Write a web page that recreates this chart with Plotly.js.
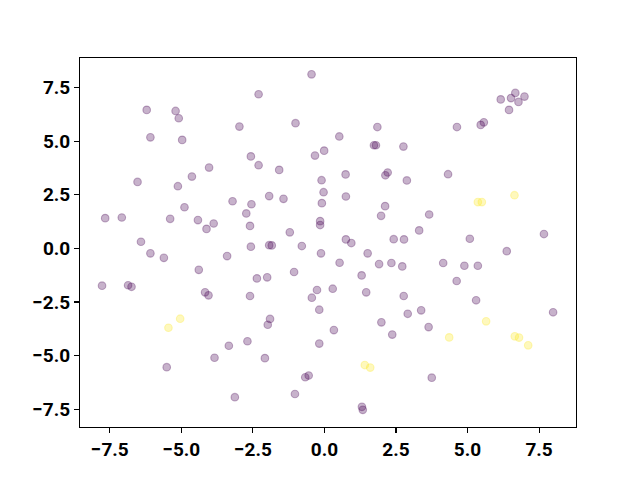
<!DOCTYPE html>
<html>
<head>
<meta charset="utf-8">
<script src="https://cdn.plot.ly/plotly-3.0.1.min.js"></script>
<style>html,body{margin:0;padding:0;background:#fff;}</style>
</head>
<body>
<div id="chart" style="width:640px;height:480px;"></div>
<script>
// Class 0 points (purple)
const x0 = [-6.21,-5.20,-5.09,-2.97,-6.08,-4.97,-2.57,-4.03,-4.63,-6.53,-5.12,-3.21,-2.55,-4.89,-2.73,-7.66,-7.08,-5.39,-4.42,-3.87,-4.12,-2.60,-6.41,-2.57,
  -0.45,-2.30,-1.01,1.85,0.52,1.73,1.80,2.76,-0.01,-0.33,-2.30,-1.58,0.74,2.21,2.13,-0.10,2.88,-0.03,-1.93,-1.43,0.75,-0.09,2.12,1.98,-0.15,-0.15,-1.21,0.75,0.94,2.42,2.78,-1.93,-1.84,-0.79,3.31,
  6.16,6.52,6.67,6.99,6.78,6.45,4.63,5.46,5.57,4.32,3.66,5.08,7.67,6.37,
  -6.08,-5.61,-3.40,-4.39,-7.77,-6.86,-6.74,-4.17,-4.05,-2.60,-3.34,-2.69,-3.84,-5.51,-3.13,
  -0.12,1.51,0.53,1.91,2.34,2.72,-2.36,-2.00,-1.06,1.30,-0.26,-0.44,0.29,1.46,2.77,-0.18,-1.90,-1.98,2.91,1.99,0.33,2.37,-0.18,-2.08,-0.67,-0.55,-1.03,1.31,1.34,
  4.15,4.89,5.36,4.62,5.30,3.38,7.99,3.64,3.75];
const y0 = [6.46,6.41,6.07,5.68,5.18,5.06,4.29,3.77,3.35,3.10,2.90,2.20,2.06,1.92,1.63,1.41,1.44,1.38,1.32,1.16,0.91,1.05,0.31,0.08,
  8.12,7.19,5.84,5.66,5.22,4.81,4.81,4.75,4.56,4.33,3.88,3.66,3.45,3.54,3.41,3.18,3.17,2.62,2.44,2.31,2.42,2.11,1.97,1.52,1.27,1.09,0.75,0.42,0.25,0.43,0.42,0.15,0.14,0.11,0.84,
  6.95,7.01,7.25,7.08,6.83,6.46,5.66,5.76,5.88,3.46,1.58,0.45,0.67,-0.13,
  -0.23,-0.44,-0.36,-1.00,-1.74,-1.72,-1.79,-2.05,-2.19,-2.22,-4.54,-4.33,-5.10,-5.54,-6.94,
  -0.23,-0.23,-0.67,-0.73,-0.68,-0.84,-1.40,-1.35,-1.10,-1.26,-1.94,-2.30,-1.88,-2.05,-2.22,-2.86,-3.29,-3.56,-3.05,-3.45,-3.81,-4.02,-4.44,-5.12,-6.01,-5.93,-6.79,-7.39,-7.53,
  -0.68,-0.81,-0.81,-1.52,-2.42,-2.89,-2.98,-3.67,-6.03];
// Class 1 points (yellow)
const x1 = [5.36,5.50,6.64,-5.04,-5.45,1.41,1.60,5.65,4.36,6.65,6.80,7.12];
const y1 = [2.16,2.16,2.48,-3.28,-3.70,-5.44,-5.56,-3.40,-4.15,-4.10,-4.16,-4.52];

const tickVals = [-7.5,-5.0,-2.5,0.0,2.5,5.0,7.5];
const tickText = ["\u22127.5","\u22125.0","\u22122.5","0.0","2.5","5.0","7.5"];

function trace(x, y, rgb) {
  return {
    type: 'scatter', mode: 'markers', x: x, y: y, hoverinfo: 'skip',
    marker: {symbol: 'circle', size: 7.6, color: 'rgba(' + rgb + ',0.3)',
             line: {color: 'rgba(' + rgb + ',0.3)', width: 1.1}}
  };
}

const axisCommon = {
  showgrid: false, zeroline: false, showline: true, mirror: true,
  linecolor: '#000', linewidth: 1.1, ticks: 'outside', ticklen: 4.9,
  tickwidth: 1.1, tickcolor: '#000', tickvals: tickVals, ticktext: tickText,
  tickfont: {family: 'Roboto, Liberation Sans, Arial, sans-serif', size: 19, color: '#000', weight: 'bold'}
};

const layout = {
  width: 640, height: 480,
  margin: {l: 80, r: 64, t: 58, b: 53, pad: 0},
  paper_bgcolor: '#fff', plot_bgcolor: '#fff',
  showlegend: false,
  xaxis: Object.assign({}, axisCommon, {range: [-8.54, 8.79]}),
  yaxis: Object.assign({}, axisCommon, {range: [-8.33, 8.88]})
};

Plotly.newPlot('chart', [trace(x0, y0, '68,1,84'), trace(x1, y1, '253,231,37')], layout, {staticPlot: true, displayModeBar: false});
</script>
</body>
</html>
